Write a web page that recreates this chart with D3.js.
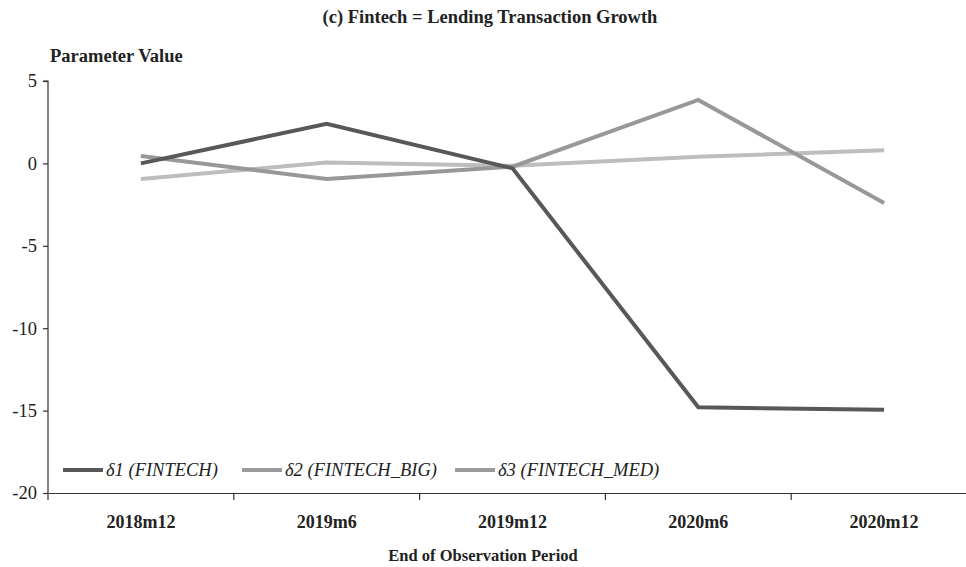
<!DOCTYPE html>
<html>
<head>
<meta charset="utf-8">
<script src="https://cdn.jsdelivr.net/npm/d3@7"></script>
<style>
  html, body { margin: 0; padding: 0; background: #fff; }
  svg { display: block; }
  text { font-family: "Liberation Serif", "DejaVu Serif", serif; fill: #222; }
</style>
</head>
<body>
<svg id="chart" width="966" height="567"></svg>
<script>
// Observation periods on the x axis
const periods = ["2018m12", "2019m6", "2019m12", "2020m6", "2020m12"];
// Parameter estimates for each interaction term
const delta1 = [0.0, 2.4, -0.3, -14.8, -14.95];
const delta2 = [0.45, -0.95, -0.2, 3.85, -2.4];
const delta3 = [-0.95, 0.05, -0.15, 0.4, 0.8];
const seriesNames = ["δ1 (FINTECH)", "δ2 (FINTECH_BIG)", "δ3 (FINTECH_MED)"];
const yTicks = [5, 0, -5, -10, -15, -20];

const lineColors = ["#58585a", "#98989a", "#bdbdbf"];
const legendColors = ["#58585a", "#9a9a9c", "#9a9a9c"];

const svg = d3.select("#chart");
const plotLeft = 48, plotRight = 977, plotTop = 81, plotBottom = 493;

const x = d3.scaleBand().domain(periods).range([plotLeft, plotRight]);
const y = d3.scaleLinear().domain([-20, 5]).range([plotBottom, plotTop]);

// Title and axis titles
svg.append("text").attr("x", 490).attr("y", 23).attr("text-anchor", "middle")
  .style("font-size", "18.5px").style("font-weight", "bold")
  .text("(c) Fintech = Lending Transaction Growth");
svg.append("text").attr("x", 50).attr("y", 62)
  .style("font-size", "18.5px").style("font-weight", "bold")
  .text("Parameter Value");
svg.append("text").attr("x", 483).attr("y", 561).attr("text-anchor", "middle")
  .style("font-size", "16.5px").style("font-weight", "bold")
  .text("End of Observation Period");

// Y axis (hyphen used as the minus sign)
const yAxis = svg.append("g").attr("transform", `translate(${plotLeft},0)`)
  .call(d3.axisLeft(y).tickValues(yTicks).tickSize(5).tickPadding(6)
    .tickFormat(d => String(d)));
yAxis.select(".domain").attr("stroke", "#333").attr("stroke-width", 1.2)
  .attr("d", `M-5,${plotTop}H0V${plotBottom}`);
yAxis.selectAll(".tick line").attr("stroke", "#333").attr("stroke-width", 1.2);
yAxis.selectAll(".tick text").style("font-size", "18.5px")
  .style("font-family", "'Liberation Serif', serif").attr("fill", "#222");

// X axis with boundaries between categories
const xAxis = svg.append("g").attr("transform", `translate(0,${plotBottom})`)
  .call(d3.axisBottom(x).tickSize(0).tickPadding(22));
xAxis.select(".domain").attr("stroke", "#333").attr("stroke-width", 1.2);
xAxis.selectAll(".tick text").style("font-size", "18px").style("font-weight", "bold")
  .style("font-family", "'Liberation Serif', serif").attr("fill", "#222");
xAxis.selectAll(".bound").data(periods).enter().append("line")
  .attr("class", "bound")
  .attr("x1", d => x(d)).attr("x2", d => x(d))
  .attr("y1", 0).attr("y2", 7)
  .attr("stroke", "#333").attr("stroke-width", 1.2);

// Lines
const allSeries = [delta1, delta2, delta3];
const line = d3.line()
  .x((d, i) => x(periods[i]) + x.bandwidth() / 2)
  .y(d => y(d));
[2, 1, 0].forEach(k => {
  svg.append("path").datum(allSeries[k])
    .attr("fill", "none")
    .attr("stroke", lineColors[k])
    .attr("stroke-width", 4)
    .attr("stroke-linejoin", "miter")
    .attr("d", line);
});

// Legend
const legendX = [63, 242, 455];
const lg = svg.append("g");
seriesNames.forEach((name, i) => {
  lg.append("line").attr("x1", legendX[i]).attr("x2", legendX[i] + 40)
    .attr("y1", 470).attr("y2", 470)
    .attr("stroke", legendColors[i]).attr("stroke-width", 4);
  lg.append("text").attr("x", legendX[i] + 43).attr("y", 476)
    .style("font-size", "18.5px").style("font-style", "italic")
    .text(name);
});
</script>
</body>
</html>
